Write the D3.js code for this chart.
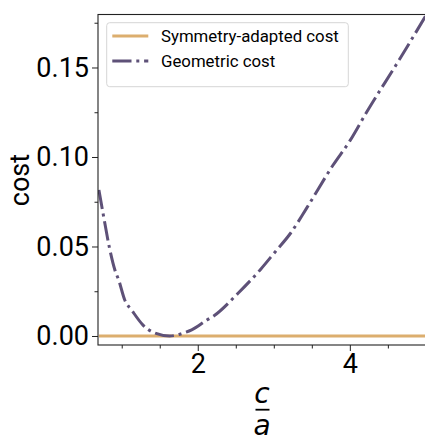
<!DOCTYPE html>
<html>
<head>
<meta charset="utf-8">
<script src="https://cdn.jsdelivr.net/npm/d3@7"></script>
<style>
  html, body { margin: 0; padding: 0; background: #fff; }
  svg { display: block; }
</style>
</head>
<body>
<svg id="chart" width="425" height="436"></svg>
<script>
// ---- data ----
const ratioValues = [0.70, 0.76, 0.84, 0.91, 0.96, 1.04, 1.13, 1.28, 1.42, 1.63, 1.83, 1.92, 2.12, 2.21, 2.53, 2.82, 3.02, 3.22, 3.43, 3.78, 4.00, 4.22, 4.66, 5.00];
const geometricCost = [0.0816, 0.0672, 0.0490, 0.0369, 0.0313, 0.0201, 0.0145, 0.0061, 0.0019, 0.0000, 0.0019, 0.0034, 0.0089, 0.0112, 0.0239, 0.0369, 0.0471, 0.0574, 0.0713, 0.0955, 0.1090, 0.1250, 0.1550, 0.1790];
const symmetryRatio = [0.70, 5.00];
const symmetryCost = [0.0, 0.0];
const seriesNames = ["Symmetry-adapted cost", "Geometric cost"];
const yTickValues = [0.00, 0.05, 0.10, 0.15];
const yMinorValues = [0.025, 0.075, 0.125, 0.175];
const xTickValues = [2, 4];
const xMinorValues = [1, 1.5, 2.5, 3, 3.5, 4.5];

// ---- layout ----
const mLeft = 98, mRight = 425.5, mTop = 14.5, mBottom = 345;
const colSym = "#dcae6e", colGeo = "#5e5178";
const font = "Roboto, 'Noto Sans', sans-serif";

const svg = d3.select("#chart");
const x = d3.scaleLinear().domain([0.688, 4.995]).range([mLeft, mRight]);
const y = d3.scaleLinear().domain([-0.00503, 0.1796]).range([mBottom, mTop]);

svg.append("defs").append("clipPath").attr("id", "clip")
  .append("rect").attr("x", mLeft).attr("y", mTop).attr("width", mRight - mLeft).attr("height", mBottom - mTop);

const plot = svg.append("g").attr("clip-path", "url(#clip)");

plot.append("path")
  .datum(symmetryRatio.map((r, i) => [r, symmetryCost[i]]))
  .attr("d", d3.line().x(d => x(d[0])).y(d => y(d[1])))
  .attr("fill", "none").attr("stroke", colSym).attr("stroke-width", 3);

plot.append("path")
  .datum(ratioValues.map((r, i) => [r, geometricCost[i]]))
  .attr("d", d3.line().x(d => x(d[0])).y(d => y(d[1])).curve(d3.curveMonotoneX))
  .attr("fill", "none").attr("stroke", colGeo).attr("stroke-width", 3)
  .attr("stroke-dasharray", "19.2,4.8,3,4.8");

// ---- axes ----
const yAxis = svg.append("g").attr("transform", `translate(${mLeft},0)`)
  .call(d3.axisLeft(y).tickValues(yTickValues).tickFormat(d3.format(".2f")).tickSize(6).tickPadding(3));
const yMinor = svg.append("g").attr("transform", `translate(${mLeft},0)`)
  .call(d3.axisLeft(y).tickValues(yMinorValues).tickFormat("").tickSize(3.5));
const xAxis = svg.append("g").attr("transform", `translate(0,${mBottom})`)
  .call(d3.axisBottom(x).tickValues(xTickValues).tickFormat(d3.format("d")).tickSize(6).tickPadding(3));
const xMinor = svg.append("g").attr("transform", `translate(0,${mBottom})`)
  .call(d3.axisBottom(x).tickValues(xMinorValues).tickFormat("").tickSize(3.5));

[yAxis, yMinor, xAxis, xMinor].forEach(g => {
  g.select(".domain").remove();
  g.selectAll(".tick line").attr("stroke", "#222").attr("stroke-width", 1);
  g.selectAll("text").attr("font-family", font).attr("font-size", 27).attr("fill", "#000");
});

// spines
svg.append("rect").attr("x", mLeft).attr("y", mTop).attr("width", mRight - mLeft + 5).attr("height", mBottom - mTop)
  .attr("fill", "none").attr("stroke", "#222").attr("stroke-width", 1.1);

// ---- labels ----
svg.append("text").attr("transform", `translate(29,180) rotate(-90)`)
  .attr("text-anchor", "middle").attr("font-family", font).attr("font-size", 27).text("cost");

const xl = svg.append("g");
xl.append("text").attr("x", 262).attr("y", 403).attr("text-anchor", "middle")
  .attr("font-family", "'DejaVu Sans'").attr("font-style", "italic").attr("font-size", 28).text("c");
xl.append("line").attr("x1", 255.5).attr("x2", 269.5).attr("y1", 409.7).attr("y2", 409.7)
  .attr("stroke", "#000").attr("stroke-width", 1.8);
xl.append("text").attr("x", 262).attr("y", 435).attr("text-anchor", "middle")
  .attr("font-family", "'DejaVu Sans'").attr("font-style", "italic").attr("font-size", 28).text("a");

// ---- legend ----
const lg = svg.append("g");
lg.append("rect").attr("x", 106.7).attr("y", 22.7).attr("width", 241.6).attr("height", 64)
  .attr("rx", 3).attr("fill", "#fff").attr("fill-opacity", 0.8).attr("stroke", "#d6d6d6").attr("stroke-width", 1);
const items = [
  {name: seriesNames[0], color: colSym, dash: null, yy: 36},
  {name: seriesNames[1], color: colGeo, dash: "19.2,4.8,3,4.8", yy: 61}
];
items.forEach(it => {
  lg.append("line").attr("x1", 112.3).attr("x2", 148.3).attr("y1", it.yy).attr("y2", it.yy)
    .attr("stroke", it.color).attr("stroke-width", 3).attr("stroke-dasharray", it.dash);
  lg.append("text").attr("x", 161).attr("y", it.yy).attr("dy", "0.35em")
    .attr("font-family", font).attr("font-size", 16.8).attr("fill", "#000").text(it.name);
});
</script>
</body>
</html>
